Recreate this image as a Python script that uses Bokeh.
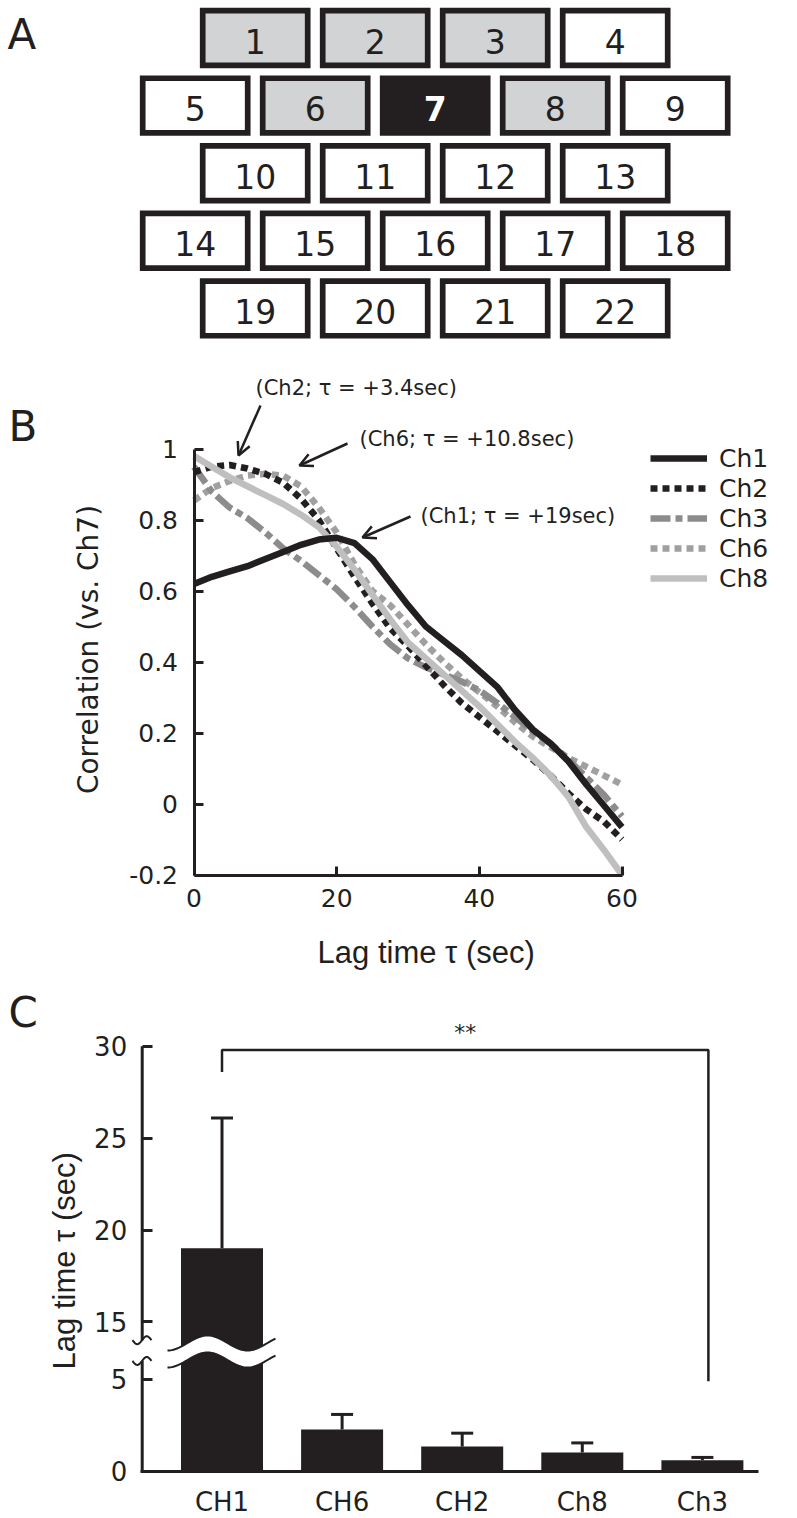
import math
from bokeh.plotting import figure
from bokeh.layouts import column
from bokeh.models import (Range1d, FixedTicker, Label, Arrow, OpenHead, Legend,
                          LegendItem, ColumnDataSource)
from bokeh.core.properties import value
from bokeh.embed import file_html
from bokeh.resources import INLINE

# ---------------------------------------------------------------- data
# Panel A : channel layout
CHANNEL_ROWS = [[1, 2, 3, 4], [5, 6, 7, 8, 9], [10, 11, 12, 13],
                [14, 15, 16, 17, 18], [19, 20, 21, 22]]
NEIGHBOUR_CHANNELS = [1, 2, 3, 6, 8]
SEED_CHANNEL = 7

# Panel B : cross-correlation vs. lag
LAG_S = [0, 2.5, 5, 7.5, 10, 12.5, 15, 17.5, 20, 22.5, 25, 27.5, 30,
         32.5, 35, 37.5, 40, 42.5, 45, 47.5, 50, 52.5, 55, 57.5, 60]
CORR_CH1 = [0.62, 0.64, 0.655, 0.67, 0.69, 0.71, 0.73, 0.745, 0.75, 0.735,
            0.69, 0.625, 0.56, 0.50, 0.46, 0.42, 0.375, 0.33, 0.265, 0.21,
            0.17, 0.12, 0.055, -0.005, -0.065]
CORR_CH2 = [0.935, 0.95, 0.955, 0.945, 0.93, 0.905, 0.86, 0.80, 0.72, 0.64,
            0.565, 0.495, 0.445, 0.39, 0.335, 0.285, 0.245, 0.205, 0.165,
            0.125, 0.08, 0.03, -0.015, -0.05, -0.1]
CORR_CH3 = [0.95, 0.88, 0.835, 0.805, 0.765, 0.72, 0.685, 0.645, 0.605,
            0.555, 0.5, 0.45, 0.41, 0.385, 0.365, 0.345, 0.32, 0.285, 0.245,
            0.205, 0.17, 0.125, 0.075, 0.025, -0.035]
CORR_CH6 = [0.855, 0.89, 0.91, 0.925, 0.93, 0.925, 0.895, 0.835, 0.765,
            0.675, 0.6, 0.56, 0.505, 0.45, 0.40, 0.355, 0.315, 0.275, 0.23,
            0.19, 0.16, 0.13, 0.105, 0.08, 0.055]
CORR_CH8 = [0.98, 0.95, 0.92, 0.895, 0.87, 0.845, 0.815, 0.78, 0.725, 0.66,
            0.59, 0.52, 0.455, 0.41, 0.365, 0.32, 0.275, 0.225, 0.175, 0.13,
            0.08, 0.02, -0.065, -0.13, -0.2]
X_TICKS_B = [0, 20, 40, 60]
Y_TICKS_B = [-0.2, 0, 0.2, 0.4, 0.6, 0.8, 1.0]
Y_LABELS_B = ["-0.2", "0", "0.2", "0.4", "0.6", "0.8", "1"]
PEAK_NOTES = ["(Ch2; \u03c4 = +3.4sec)", "(Ch6; \u03c4 = +10.8sec)",
              "(Ch1; \u03c4 = +19sec)"]

# Panel C : lag time per channel (mean + SE)
BAR_CHANNELS = ["CH1", "CH6", "CH2", "Ch8", "Ch3"]
BAR_LAG = [19.0, 2.27, 1.34, 1.02, 0.60]
BAR_SE = [7.1, 0.82, 0.73, 0.52, 0.15]
Y_TICKS_C = [0, 5, 15, 20, 25, 30]
SIG_TOP = 29.8
SIG_LEFT_END = 28.6
SIG_RIGHT_END = 4.9
SIG_LABEL = "**"

# ---------------------------------------------------------------- style
INK = "#231f20"
FONT = "DejaVu Sans"
FONT_TITLE = "Liberation Sans"
W = 797


def make_fig(h, xr, yr):
    p = figure(width=W, height=h, x_range=xr, y_range=yr,
               output_backend="svg", toolbar_location=None, min_border=0)
    p.grid.visible = False
    p.outline_line_color = None
    p.background_fill_color = "white"
    p.border_fill_color = "white"
    return p


def letter(p, x, y, t):
    p.add_layout(Label(x=x, y=y, text=t, text_font=FONT,
                       text_font_size="42px", text_color=INK,
                       text_baseline="middle", text_align="left"))


# ================================================================ Panel A
A_H = 350
pa = make_fig(A_H, Range1d(0, W), Range1d(A_H, 0))
pa.xaxis.visible = False
pa.yaxis.visible = False

A_X0, A_PX, A_Y0, A_PY = 254.7, 120.0, 37.5, 67.6
bx_, by_, fill, lab, tcol, tsty = [], [], [], [], [], []
for r, row in enumerate(CHANNEL_ROWS):
    shift = 0.5 * (len(row) - 4)
    for k, ch in enumerate(row):
        bx_.append(A_X0 + A_PX * (k - shift))
        by_.append(A_Y0 + A_PY * r)
        if ch == SEED_CHANNEL:
            fill.append(INK); tcol.append("white"); tsty.append("bold")
        elif ch in NEIGHBOUR_CHANNELS:
            fill.append("#d1d3d4"); tcol.append(INK); tsty.append("normal")
        else:
            fill.append("white"); tcol.append(INK); tsty.append("normal")
        lab.append(str(ch))
srcA = ColumnDataSource(dict(x=bx_, y=by_, ty=[v + 3 for v in by_],
                             fill=fill, label=lab, tcol=tcol, tsty=tsty))
pa.rect(x="x", y="y", width=105, height=54.7, fill_color="fill",
        line_color=INK, line_width=5.7, line_join="miter", source=srcA)
pa.text(x="x", y="ty", text="label", text_color="tcol",
        text_font_style="tsty", text_font=value(FONT),
        text_font_size=value("33px"), text_align="center",
        text_baseline="middle", source=srcA)
letter(pa, 7, 34, "A")

# ================================================================ Panel B
B_TOP, B_H = A_H, 625
B_X0, B_YB = 193.5, 874.5            # page px of x=0 and y=-0.2
B_PXX = 428 / 60.0
B_PXY = 426 / 1.2


def bx(px):
    return (px - B_X0) / B_PXX


def by(py):
    return -0.2 + (B_YB - py) / B_PXY


pb = make_fig(B_H, Range1d(bx(0), bx(W)), Range1d(by(B_TOP + B_H), by(B_TOP)))

r6 = pb.line(LAG_S, CORR_CH6, line_color="#a0a0a0", line_width=6.5,
             line_dash="7 5")
r3 = pb.line(LAG_S, CORR_CH3, line_color="#8c8c8c", line_width=6.5,
             line_dash="20 5 7 5")
r2 = pb.line(LAG_S, CORR_CH2, line_color=INK, line_width=6.5,
             line_dash="7 5")
r8 = pb.line(LAG_S, CORR_CH8, line_color="#bfbfbf", line_width=6.5,
             line_join="round")
r1 = pb.line(LAG_S, CORR_CH1, line_color=INK, line_width=6.5,
             line_join="round")

xa, ya = pb.xaxis[0], pb.yaxis[0]
xa.fixed_location = -0.2
ya.fixed_location = 0
xa.ticker = FixedTicker(ticks=X_TICKS_B)
xa.bounds = (0, 60)
ya.ticker = FixedTicker(ticks=Y_TICKS_B)
ya.bounds = (-0.2, 1)
ya.major_label_overrides = dict(zip(Y_TICKS_B, Y_LABELS_B))
for ax in (xa, ya):
    ax.axis_line_width = 3
    ax.axis_line_color = INK
    ax.major_tick_line_width = 3
    ax.major_tick_line_color = INK
    ax.major_tick_in = 9
    ax.major_tick_out = 0
    ax.minor_tick_line_color = None
    ax.major_label_text_font = FONT
    ax.major_label_text_font_size = "25px"
    ax.major_label_text_color = INK
xa.major_label_standoff = 14
ya.major_label_standoff = 16

pb.add_layout(Label(x=bx(430), y=by(951.7), text="Lag time  \u03c4 (sec)",
                    text_font=FONT_TITLE, text_font_size="31px",
                    text_color=INK, text_align="center",
                    text_baseline="middle"))
pb.add_layout(Label(x=bx(88), y=by(649), text="Correlation (vs. Ch7)",
                    angle=math.pi / 2, text_font=FONT, text_font_size="28px",
                    text_color=INK, text_align="center",
                    text_baseline="middle"))

# annotations: text anchor (left, middle) and arrow tail/head, page px
NOTE_POS = [(255, 387, 260, 405, 238, 455),
            (359, 438, 347, 443, 299, 465),
            (420, 515, 410, 516, 362, 537)]
for txt, (tx, ty, x0, y0, x1, y1) in zip(PEAK_NOTES, NOTE_POS):
    pb.add_layout(Label(x=bx(tx), y=by(ty), text=txt, text_font=FONT,
                        text_font_size="21px", text_color=INK,
                        text_align="left", text_baseline="middle"))
    pb.add_layout(Arrow(end=OpenHead(size=13, line_width=2.5, line_color=INK),
                        x_start=bx(x0), y_start=by(y0), x_end=bx(x1),
                        y_end=by(y1), line_width=2.5, line_color=INK))

legend = Legend(items=[LegendItem(label="Ch1", renderers=[r1]),
                       LegendItem(label="Ch2", renderers=[r2]),
                       LegendItem(label="Ch3", renderers=[r3]),
                       LegendItem(label="Ch6", renderers=[r6]),
                       LegendItem(label="Ch8", renderers=[r8])],
                location=(650, B_TOP + B_H - 593), padding=0, spacing=0,
                glyph_height=30, glyph_width=57, label_standoff=12,
                label_text_font=FONT, label_text_font_size="25px",
                label_text_color=INK, border_line_color=None,
                background_fill_alpha=0)
pb.add_layout(legend)
letter(pb, bx(8), by(426), "B")

# ================================================================ Panel C
C_TOP = B_TOP + B_H
C_H = 1517 - C_TOP
C_X1, C_PXX = 221.5, 120.1           # page x of first bar, px per bar
C_Y0, C_PXY = 1470.7, 18.37          # page y of zero, px per unit
BREAK_GAP = 6.87                     # hidden span of the broken axis
LOWER_MAX, UPPER_MIN = 6.0, 14.0


def disp(v):
    return v if v <= 10 else v - BREAK_GAP


def cx(px):
    return 1 + (px - C_X1) / C_PXX


def cy(py):
    return (C_Y0 - py) / C_PXY


pc = make_fig(C_H, Range1d(cx(0), cx(W)), Range1d(cy(C_TOP + C_H), cy(C_TOP)))

xpos = list(range(1, len(BAR_CHANNELS) + 1))
tops = [disp(v) for v in BAR_LAG]
etops = [disp(m + e) for m, e in zip(BAR_LAG, BAR_SE)]
half_cap = 11 / C_PXX
pc.vbar(x=xpos, width=82 / C_PXX, bottom=0, top=tops, fill_color=INK,
        line_color=None)
pc.segment(x0=xpos, y0=tops, x1=xpos, y1=etops, line_color=INK,
           line_width=3)
pc.segment(x0=[x - half_cap for x in xpos], y0=etops,
           x1=[x + half_cap for x in xpos], y1=etops, line_color=INK,
           line_width=3)

# axis break across the tall bar
u = [i * 2 for i in range(55)]
ctr = [6.516 - (7.5 / C_PXY) * math.cos(2 * math.pi * v / 80.0) for v in u]
bandx = [cx(167 + v) for v in u]
half = 8.5 / C_PXY
top_c = [c + half for c in ctr]
bot_c = [c - half for c in ctr]
pc.patch(bandx + bandx[::-1], top_c + bot_c[::-1], fill_color="white",
         line_color=None)
pc.line(bandx, top_c, line_color=INK, line_width=2)
pc.line(bandx, bot_c, line_color=INK, line_width=2)

# broken y spine
SPINE = cx(141.7)
pc.segment(x0=[SPINE, SPINE], y0=[0, disp(UPPER_MIN)], x1=[SPINE, SPINE],
           y1=[disp(LOWER_MAX), disp(Y_TICKS_C[-1])], line_color=INK,
           line_width=3)
cu = [i for i in range(20)]
for yc in (disp(LOWER_MAX), disp(UPPER_MIN)):
    pc.line([cx(132 + v) for v in cu],
            [yc - (4 / C_PXY) * math.sin(2 * math.pi * v / 19.0) for v in cu],
            line_color=INK, line_width=2)

# significance bracket
i_a, i_b = BAR_CHANNELS.index("CH1") + 1, BAR_CHANNELS.index("Ch3") + 1 + 0.05
pc.line([i_a, i_a, i_b, i_b],
        [disp(SIG_LEFT_END), disp(SIG_TOP), disp(SIG_TOP), disp(SIG_RIGHT_END)],
        line_color=INK, line_width=2.5)
pc.text(x=[(i_a + i_b) / 2], y=[cy(1032)], text=[SIG_LABEL],
        text_font=value(FONT), text_font_size=value("22px"), text_color=INK,
        text_align="center", text_baseline="middle")

yt = [disp(v) for v in Y_TICKS_C]
cya = pc.yaxis[0]
cya.fixed_location = SPINE
cya.ticker = FixedTicker(ticks=yt)
cya.major_label_overrides = {d: str(v) for d, v in zip(yt, Y_TICKS_C)}
cya.axis_line_color = None
cya.major_tick_line_color = INK
cya.major_tick_line_width = 3
cya.minor_tick_line_color = None
cya.major_tick_in = 10
cya.major_tick_out = 0
cya.major_label_standoff = 15
cya.major_label_text_font = FONT
cya.major_label_text_font_size = "26px"
cya.major_label_text_color = INK

cxa = pc.xaxis[0]
cxa.fixed_location = 0
cxa.bounds = (cx(140.2), cx(757.7))
cxa.ticker = FixedTicker(ticks=xpos)
cxa.major_label_overrides = dict(zip(xpos, BAR_CHANNELS))
cxa.axis_line_width = 3
cxa.axis_line_color = INK
cxa.major_tick_line_color = None
cxa.minor_tick_line_color = None
cxa.major_tick_in = 0
cxa.major_tick_out = 0
cxa.major_label_standoff = 16
cxa.major_label_text_font = FONT
cxa.major_label_text_font_size = "26px"
cxa.major_label_text_color = INK

pc.add_layout(Label(x=cx(64), y=cy(1256), text="Lag time  \u03c4 (sec)",
                    angle=math.pi / 2, text_font=FONT_TITLE,
                    text_font_size="31px", text_color=INK,
                    text_align="center", text_baseline="middle"))
letter(pc, cx(8), cy(1012), "C")

layout = column(pa, pb, pc, spacing=0)
open("out.html", "w").write(file_html(layout, INLINE))
